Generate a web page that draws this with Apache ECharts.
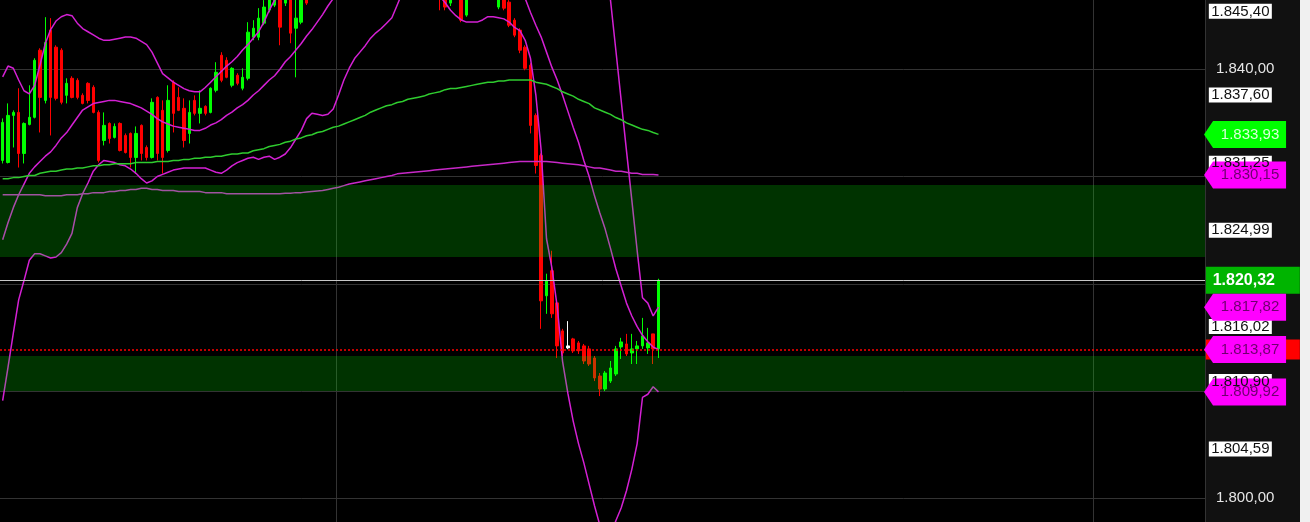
<!DOCTYPE html>
<html><head><meta charset="utf-8">
<script src="https://cdn.jsdelivr.net/npm/echarts@6/dist/echarts.min.js"></script>
<style>html,body{margin:0;padding:0;background:#111;}#c{width:1310px;height:522px;}</style>
</head><body><div id="c"></div>
<script>
// ---- data (prices) ----
const opens = [1831.50,1831.31,1835.70,1835.98,1832.15,1834.86,1835.52,1841.78,1837.10,1843.65,
1842.06,1841.78,1837.57,1839.16,1838.97,1837.57,1838.69,1838.32,1835.98,1833.36,
1834.95,1833.65,1834.95,1833.83,1834.02,1831.78,1834.77,1832.71,1831.78,1837.38,
1836.17,1832.43,1838.79,1837.38,1836.36,1834.02,1837.10,1835.89,1836.54,1835.98,
1838.04,1841.31,1840.84,1838.51,1839.44,1838.23,1839.16,1842.99,1842.99,1844.30,
1845.52,1845.98,1846.45,1846.17,1846.90,1843.83,1844.39,1847.40,1846.60,1848.00,
1847.50,1849.20,1850.10,1849.40,1851.00,1850.30,1851.80,1852.60,1851.90,1853.20,
1852.50,1853.80,1853.00,1852.10,1852.90,1851.80,1852.40,1851.20,1851.90,1850.60,
1850.00,1849.20,1848.40,1846.90,1846.17,1847.00,1846.60,1845.05,1846.90,1847.60,
1848.30,1847.80,1848.40,1845.80,1846.60,1846.26,1844.58,1843.65,1842.06,1840.38,
1835.70,1831.96,1818.88,1821.22,1818.22,1815.61,1814.21,1814.86,1814.49,1814.21,
1813.93,1813.08,1811.40,1810.19,1810.93,1811.59,1814.11,1814.39,1813.55,1813.93,
1814.21,1814.02,1815.33,1813.93];
const closes = [1835.05,1835.70,1835.98,1832.15,1834.95,1835.52,1840.84,1837.38,1842.52,1837.38,
1837.29,1836.92,1838.69,1837.38,1837.38,1836.82,1837.10,1835.98,1831.50,1834.77,
1833.55,1834.67,1832.43,1832.24,1831.78,1834.02,1832.15,1831.78,1836.92,1832.15,
1831.78,1837.10,1835.89,1836.17,1833.36,1835.98,1835.89,1836.36,1835.89,1838.23,
1839.72,1838.97,1839.25,1840.09,1838.69,1839.25,1843.46,1843.83,1844.77,1845.80,
1846.92,1847.40,1843.93,1847.20,1843.37,1844.77,1846.45,1846.17,1848.00,1847.50,
1849.20,1850.10,1849.40,1851.00,1850.30,1851.80,1852.60,1851.90,1853.20,1852.50,
1853.80,1853.00,1852.10,1852.90,1851.80,1852.40,1851.20,1851.90,1850.60,1850.00,
1849.20,1848.40,1847.30,1845.80,1846.70,1846.60,1844.58,1846.90,1847.60,1848.30,
1847.80,1848.40,1847.20,1846.90,1845.70,1844.11,1843.18,1841.78,1840.09,1834.77,
1831.03,1818.41,1820.28,1817.20,1814.21,1813.55,1814.02,1813.74,1813.74,1812.80,
1812.52,1811.22,1810.19,1811.68,1812.15,1813.93,1814.58,1813.46,1813.93,1814.21,
1815.14,1814.49,1813.93,1820.32];
const lows = [1831.22,1831.22,1832.71,1830.84,1831.22,1834.77,1835.42,1834.11,1836.82,1833.83,
1837.10,1836.73,1836.82,1837.29,1837.20,1836.73,1836.82,1835.89,1831.31,1832.90,
1833.08,1833.55,1832.34,1832.15,1830.84,1830.28,1831.50,1831.50,1831.68,1831.50,
1830.28,1832.24,1834.11,1836.10,1832.71,1833.08,1835.70,1834.95,1835.70,1835.89,
1837.85,1838.79,1839.16,1838.32,1838.51,1838.04,1838.97,1842.71,1842.71,1844.11,
1845.30,1845.80,1842.24,1845.90,1842.43,1839.25,1844.20,1846.00,1846.50,1847.00,
1847.20,1848.80,1849.00,1849.10,1849.90,1850.00,1851.40,1851.50,1851.60,1852.10,
1852.20,1852.60,1851.70,1851.80,1851.40,1851.50,1850.80,1850.90,1850.20,1849.60,
1848.80,1847.90,1845.50,1845.50,1845.90,1846.50,1844.39,1844.90,1846.60,1847.20,
1847.40,1847.50,1846.80,1845.60,1845.50,1843.93,1842.99,1841.50,1839.91,1834.02,
1830.28,1815.80,1817.20,1816.82,1813.08,1813.27,1813.90,1813.55,1813.46,1812.52,
1812.34,1810.93,1809.53,1810.00,1810.75,1811.40,1812.99,1813.27,1812.52,1812.52,
1813.93,1813.46,1812.52,1813.08];
const highs = [1835.42,1836.82,1836.17,1838.23,1835.05,1838.51,1841.03,1841.96,1844.86,1844.77,
1842.24,1841.96,1839.16,1839.35,1839.16,1837.76,1838.79,1838.51,1836.17,1835.98,
1835.05,1834.95,1835.05,1834.02,1834.11,1834.67,1834.86,1832.90,1837.29,1837.48,
1837.10,1838.51,1838.97,1838.32,1837.29,1837.10,1837.57,1838.04,1836.64,1838.32,
1840.66,1841.59,1841.12,1840.19,1839.63,1840.09,1844.39,1844.58,1845.70,1846.45,
1847.30,1847.80,1846.90,1847.60,1847.30,1846.90,1847.00,1847.80,1848.40,1848.60,
1849.60,1850.50,1850.60,1851.40,1851.30,1852.20,1853.00,1853.10,1853.60,1853.50,
1854.20,1854.10,1853.30,1853.30,1853.20,1852.80,1852.60,1852.30,1852.10,1851.00,
1850.30,1849.50,1848.80,1847.30,1847.20,1847.40,1847.00,1847.30,1848.00,1848.70,
1848.90,1848.80,1848.70,1847.40,1847.00,1846.45,1844.77,1843.83,1842.24,1840.56,
1835.89,1832.15,1820.94,1823.08,1818.41,1815.80,1816.52,1814.96,1814.67,1814.39,
1814.21,1813.27,1811.68,1811.87,1812.80,1814.21,1814.96,1815.33,1815.33,1814.67,
1816.82,1815.89,1815.33,1820.47];
const neutralCandles = [106];

const upperBand = [1839.3,1840.3,1840.1,1839.0,1838.0,1837.7,1838.5,1840.4,1842.4,1843.7,
1844.5,1844.9,1845.1,1845.0,1844.3,1843.8,1843.5,1843.2,1842.9,1842.7,
1842.7,1842.8,1842.9,1843.0,1843.0,1842.9,1842.6,1842.3,1841.6,1840.6,
1839.6,1839.2,1838.8,1838.5,1838.2,1838.0,1837.9,1837.9,1838.3,1838.8,
1839.3,1839.8,1840.3,1840.7,1841.2,1841.8,1842.3,1842.9,1843.5,1844.4,
1845.5,1846.45,1847.4,1848.3,1849.2,1850.0,1850.8,1851.5,1852.2,1852.8,
1853.4,1853.9,1854.4,1854.8,1855.2,1855.6,1856.0,1856.3,1856.6,1856.8,
1857.0,1857.2,1857.3,1857.4,1857.5,1857.5,1857.5,1857.4,1857.3,1857.2,
1857.0,1856.8,1856.6,1856.4,1856.2,1856.0,1855.8,1855.6,1855.4,1855.2,
1855.0,1854.8,1854.6,1854.4,1854.2,1854.0,1854.2,1854.6,1855.0,1855.6,
1856.2,1856.8,1857.0,1857.0,1856.9,1856.7,1856.4,1856.0,1855.5,1854.8,
1854.0,1853.0,1851.6,1849.5,1846.45,1841.8,1837.1,1832.4,1827.8,1823.1,
1818.7,1818.2,1817.0,1817.82];
const middleBand = [1824.1,1825.7,1827.1,1828.3,1829.3,1830.3,1830.9,1831.4,1831.9,1832.3,
1832.9,1833.6,1834.1,1834.8,1835.5,1836.2,1836.5,1836.8,1836.9,1837.0,
1837.1,1837.1,1837.0,1836.9,1836.8,1836.6,1836.4,1836.1,1835.8,1835.4,
1835.1,1834.9,1834.7,1834.6,1834.5,1834.4,1834.3,1834.3,1834.5,1834.8,
1835.0,1835.3,1835.7,1836.0,1836.4,1836.7,1837.1,1837.6,1838.0,1838.5,
1839.0,1839.4,1840.0,1840.7,1841.2,1841.8,1842.4,1843.1,1843.7,1844.4,
1845.1,1845.9,1846.6,1847.3,1847.9,1848.5,1849.0,1849.5,1849.9,1850.3,
1850.6,1850.9,1851.1,1851.3,1851.5,1851.6,1851.7,1851.8,1851.8,1851.8,
1851.8,1851.7,1851.6,1851.5,1851.3,1851.1,1850.9,1850.7,1850.4,1850.1,
1849.8,1849.5,1849.2,1848.9,1848.5,1848.1,1847.7,1847.2,1846.6,1845.3,
1844.1,1843.0,1841.6,1840.2,1839.0,1837.6,1836.1,1834.6,1833.2,1831.5,
1830.0,1828.2,1826.6,1825.1,1823.3,1821.4,1819.8,1818.2,1817.0,1816.0,
1815.2,1814.6,1814.1,1813.87];
const lowerBand = [1809.1,1812.2,1815.4,1818.5,1820.3,1822.2,1822.8,1822.8,1822.6,1822.4,
1822.5,1822.9,1823.7,1824.7,1827.1,1828.4,1829.4,1830.5,1831.1,1831.5,
1831.4,1831.3,1831.1,1831.0,1830.7,1830.3,1829.8,1829.4,1829.6,1830.0,
1830.2,1830.4,1830.6,1830.7,1830.8,1830.8,1830.8,1830.8,1830.8,1830.6,
1830.4,1830.3,1830.6,1831.0,1831.3,1831.5,1831.7,1831.8,1831.6,1831.8,
1831.9,1831.6,1831.8,1832.1,1832.7,1833.5,1834.3,1835.4,1835.9,1835.8,
1835.7,1835.8,1836.3,1837.6,1839.0,1840.1,1841.0,1841.6,1842.2,1842.9,
1843.4,1843.8,1844.3,1844.8,1846.0,1847.2,1847.9,1848.1,1848.1,1848.0,
1847.8,1847.4,1846.8,1846.2,1845.5,1845.0,1844.6,1844.4,1844.4,1844.4,
1844.6,1844.9,1844.9,1844.8,1844.7,1844.4,1843.9,1843.6,1842.7,1841.0,
1837.6,1832.4,1824.2,1821.5,1817.9,1812.8,1809.8,1807.2,1805.1,1803.3,
1801.3,1799.3,1797.5,1796.5,1796.5,1797.9,1799.1,1800.7,1802.7,1805.1,
1809.4,1809.7,1810.4,1809.92];
const maGreen = [1829.8,1829.8,1829.9,1829.9,1830.0,1830.1,1830.1,1830.3,1830.4,1830.5,
1830.5,1830.6,1830.7,1830.7,1830.8,1830.8,1830.9,1831.0,1831.0,1831.1,
1831.1,1831.2,1831.2,1831.2,1831.2,1831.3,1831.3,1831.3,1831.3,1831.4,
1831.4,1831.4,1831.5,1831.5,1831.6,1831.6,1831.7,1831.7,1831.8,1831.8,
1831.9,1831.9,1832.0,1832.1,1832.1,1832.2,1832.2,1832.4,1832.5,1832.6,
1832.8,1832.9,1833.0,1833.2,1833.3,1833.5,1833.6,1833.8,1833.9,1834.1,
1834.2,1834.4,1834.6,1834.7,1834.9,1835.1,1835.3,1835.5,1835.7,1836.0,
1836.2,1836.4,1836.6,1836.7,1836.9,1837.0,1837.2,1837.3,1837.4,1837.5,
1837.7,1837.8,1837.9,1838.1,1838.2,1838.2,1838.3,1838.4,1838.5,1838.6,
1838.7,1838.8,1838.8,1838.9,1838.9,1839.0,1839.0,1839.0,1839.0,1839.0,
1838.8,1838.7,1838.6,1838.4,1838.2,1837.9,1837.7,1837.5,1837.2,1837.0,
1836.8,1836.4,1836.2,1836.0,1835.8,1835.5,1835.3,1835.0,1834.8,1834.6,
1834.4,1834.3,1834.1,1833.93];
const maSlow = [1828.3,1828.3,1828.3,1828.3,1828.3,1828.3,1828.3,1828.3,1828.2,1828.2,
1828.2,1828.2,1828.3,1828.3,1828.3,1828.4,1828.4,1828.5,1828.5,1828.5,
1828.6,1828.6,1828.7,1828.7,1828.8,1828.8,1828.9,1828.9,1828.8,1828.8,
1828.7,1828.7,1828.7,1828.6,1828.6,1828.6,1828.6,1828.6,1828.5,1828.5,
1828.5,1828.5,1828.4,1828.4,1828.4,1828.4,1828.4,1828.4,1828.4,1828.4,
1828.4,1828.4,1828.4,1828.45,1828.45,1828.5,1828.5,1828.55,1828.6,1828.65,
1828.7,1828.8,1828.9,1829.0,1829.15,1829.3,1829.4,1829.5,1829.6,1829.7,
1829.8,1829.9,1830.0,1830.1,1830.25,1830.3,1830.35,1830.4,1830.45,1830.5,
1830.55,1830.6,1830.65,1830.7,1830.75,1830.8,1830.85,1830.9,1830.95,1831.0,
1831.05,1831.1,1831.15,1831.2,1831.25,1831.3,1831.35,1831.4,1831.4,1831.4,
1831.4,1831.4,1831.4,1831.35,1831.3,1831.25,1831.2,1831.15,1831.1,1831.0,
1830.9,1830.8,1830.8,1830.7,1830.6,1830.5,1830.5,1830.4,1830.3,1830.3,
1830.2,1830.2,1830.2,1830.15];

const zoneUpper = [1829.21, 1822.50];
const zoneLower = [1813.27, 1810.00];
const lastPrice = 1820.32;
const stopLevel = 1813.87;
const boxLevels = [1845.40, 1837.60, 1831.25, 1824.99, 1816.02, 1810.90, 1804.59];
const tagGreen = [1833.93];
const tagMagenta = [1830.15, 1817.82, 1813.87, 1809.92];
const yTicksShown = [1840, 1800];
const yView = [1797.79, 1846.46];
const totalSlots = 226;
const vGridSlots = [63, 205];

// ---- helpers ----
function fmt(v){
  const s = Number(v).toFixed(2).split('.');
  return s[0].replace(/\B(?=(\d{3})+(?!\d))/g, '.') + ',' + s[1];
}
const font = 'Liberation Sans, Arial, sans-serif';
const cats = Array.from({length: totalSlots}, (_, i) => 'b' + i);
const lastIdx = totalSlots - 1;

const candleData = opens.map((o, i) => {
  const v = [o, closes[i], lows[i], highs[i]];
  return neutralCandles.includes(i)
    ? {value: v, itemStyle: {color: '#ffffff', color0: '#ffffff', borderColor: '#ffffff', borderColor0: '#ffffff'}}
    : v;
});

const tagPath = 'path://M0,13.5L9,0L82,0L82,27L9,27Z';
const mpData = [];
boxLevels.forEach(v => mpData.push({
  coord: [lastIdx, v], value: v, symbol: 'rect', symbolSize: [63, 15], symbolOffset: [38, 0],
  itemStyle: {color: '#ffffff'}, label: {color: '#111111'}
}));
mpData.push({
  coord: [lastIdx, stopLevel], value: stopLevel, symbol: 'rect', symbolSize: [94, 20], symbolOffset: [50.5, 0],
  itemStyle: {color: '#ff0000'}, label: {show: false}
});
mpData.push({
  coord: [lastIdx, lastPrice], value: lastPrice, symbol: 'rect', symbolSize: [94, 27], symbolOffset: [50.5, 0],
  itemStyle: {color: '#00b400'}, label: {color: '#ffffff', fontWeight: 'bold', fontSize: 16, offset: [-9, 0]}
});
tagGreen.forEach(v => mpData.push({
  coord: [lastIdx, v], value: v, symbol: tagPath, symbolSize: [82, 27], symbolKeepAspect: false, symbolOffset: [42.7, 0],
  itemStyle: {color: '#00ff00'}, label: {color: '#d8ffd8', textBorderWidth: 0, offset: [5, 0]}
}));
tagMagenta.forEach(v => mpData.push({
  coord: [lastIdx, v], value: v, symbol: tagPath, symbolSize: [82, 27], symbolKeepAspect: false, symbolOffset: [42.7, 0],
  itemStyle: {color: '#ff00ff'}, label: {color: '#6e006e', textBorderWidth: 0, offset: [5, 0]}
}));

function lineSeries(name, data, color){
  return {name, type: 'line', data, symbol: 'none', silent: true, z: 3,
    lineStyle: {color, width: 1.5}, itemStyle: {color}};
}

const chart = echarts.init(document.getElementById('c'), null, {renderer: 'canvas', width: 1310, height: 522});
chart.setOption({
  animation: false,
  backgroundColor: '#111111',
  grid: {left: 0, right: 105, top: 0, bottom: 0, show: true, backgroundColor: '#000000', borderWidth: 0},
  xAxis: {
    type: 'category', data: cats, boundaryGap: true,
    axisLine: {show: false}, axisTick: {show: false}, axisLabel: {show: false},
    splitLine: {show: true, interval: (i) => vGridSlots.includes(i), lineStyle: {color: '#333333', width: 1}}
  },
  yAxis: {
    type: 'value', position: 'right', min: yView[0], max: yView[1], splitNumber: 5,
    axisLine: {show: true, lineStyle: {color: '#333333'}}, axisTick: {show: false},
    axisLabel: {show: true, margin: 11, color: '#e6e6e6', fontSize: 15, fontFamily: font,
      showMinLabel: false, showMaxLabel: false,
      formatter: v => yTicksShown.some(t => Math.abs(t - v) < 0.001) ? fmt(v) : ''},
    splitLine: {show: true, showMinLine: false, showMaxLine: false, lineStyle: {color: '#333333', width: 1}}
  },
  graphic: [{type: 'rect', right: 0, top: 0, shape: {width: 10, height: 522}, style: {fill: '#f0f0f0'}, z: 100, silent: true}],
  series: [
    {
      name: 'price', type: 'candlestick', data: candleData, barWidth: 3, z: 2, silent: true,
      itemStyle: {color: '#00ff00', color0: '#ff0000', borderColor: '#00ff00', borderColor0: '#ff0000', borderWidth: 1}
    },
    lineSeries('upper', upperBand, '#d420d4'),
    lineSeries('middle', middleBand, '#d420d4'),
    lineSeries('lower', lowerBand, '#d420d4'),
    lineSeries('maGreen', maGreen, '#2fcc2f'),
    Object.assign(lineSeries('maSlow', maSlow, '#c828c8'), {
      clip: false,
      markArea: {
        silent: true, z: 10,
        itemStyle: {color: 'rgba(0,255,0,0.2)'},
        data: [
          [{yAxis: zoneUpper[0]}, {yAxis: zoneUpper[1]}],
          [{yAxis: zoneLower[0]}, {yAxis: zoneLower[1]}]
        ]
      },
      markLine: {
        silent: true, z: 11, symbol: ['none', 'none'], label: {show: false},
        data: [
          {yAxis: lastPrice, lineStyle: {color: '#c8c8c8', type: 'solid', width: 1}},
          {yAxis: stopLevel, lineStyle: {color: '#ff0000', type: [2, 2], width: 1.5, opacity: 1}}
        ]
      },
      markPoint: {
        silent: true, z: 12,
        label: {show: true, position: 'inside', formatter: p => fmt(p.value), fontFamily: font, fontSize: 15},
        data: mpData
      }
    })
  ]
});
</script>
</body></html>
